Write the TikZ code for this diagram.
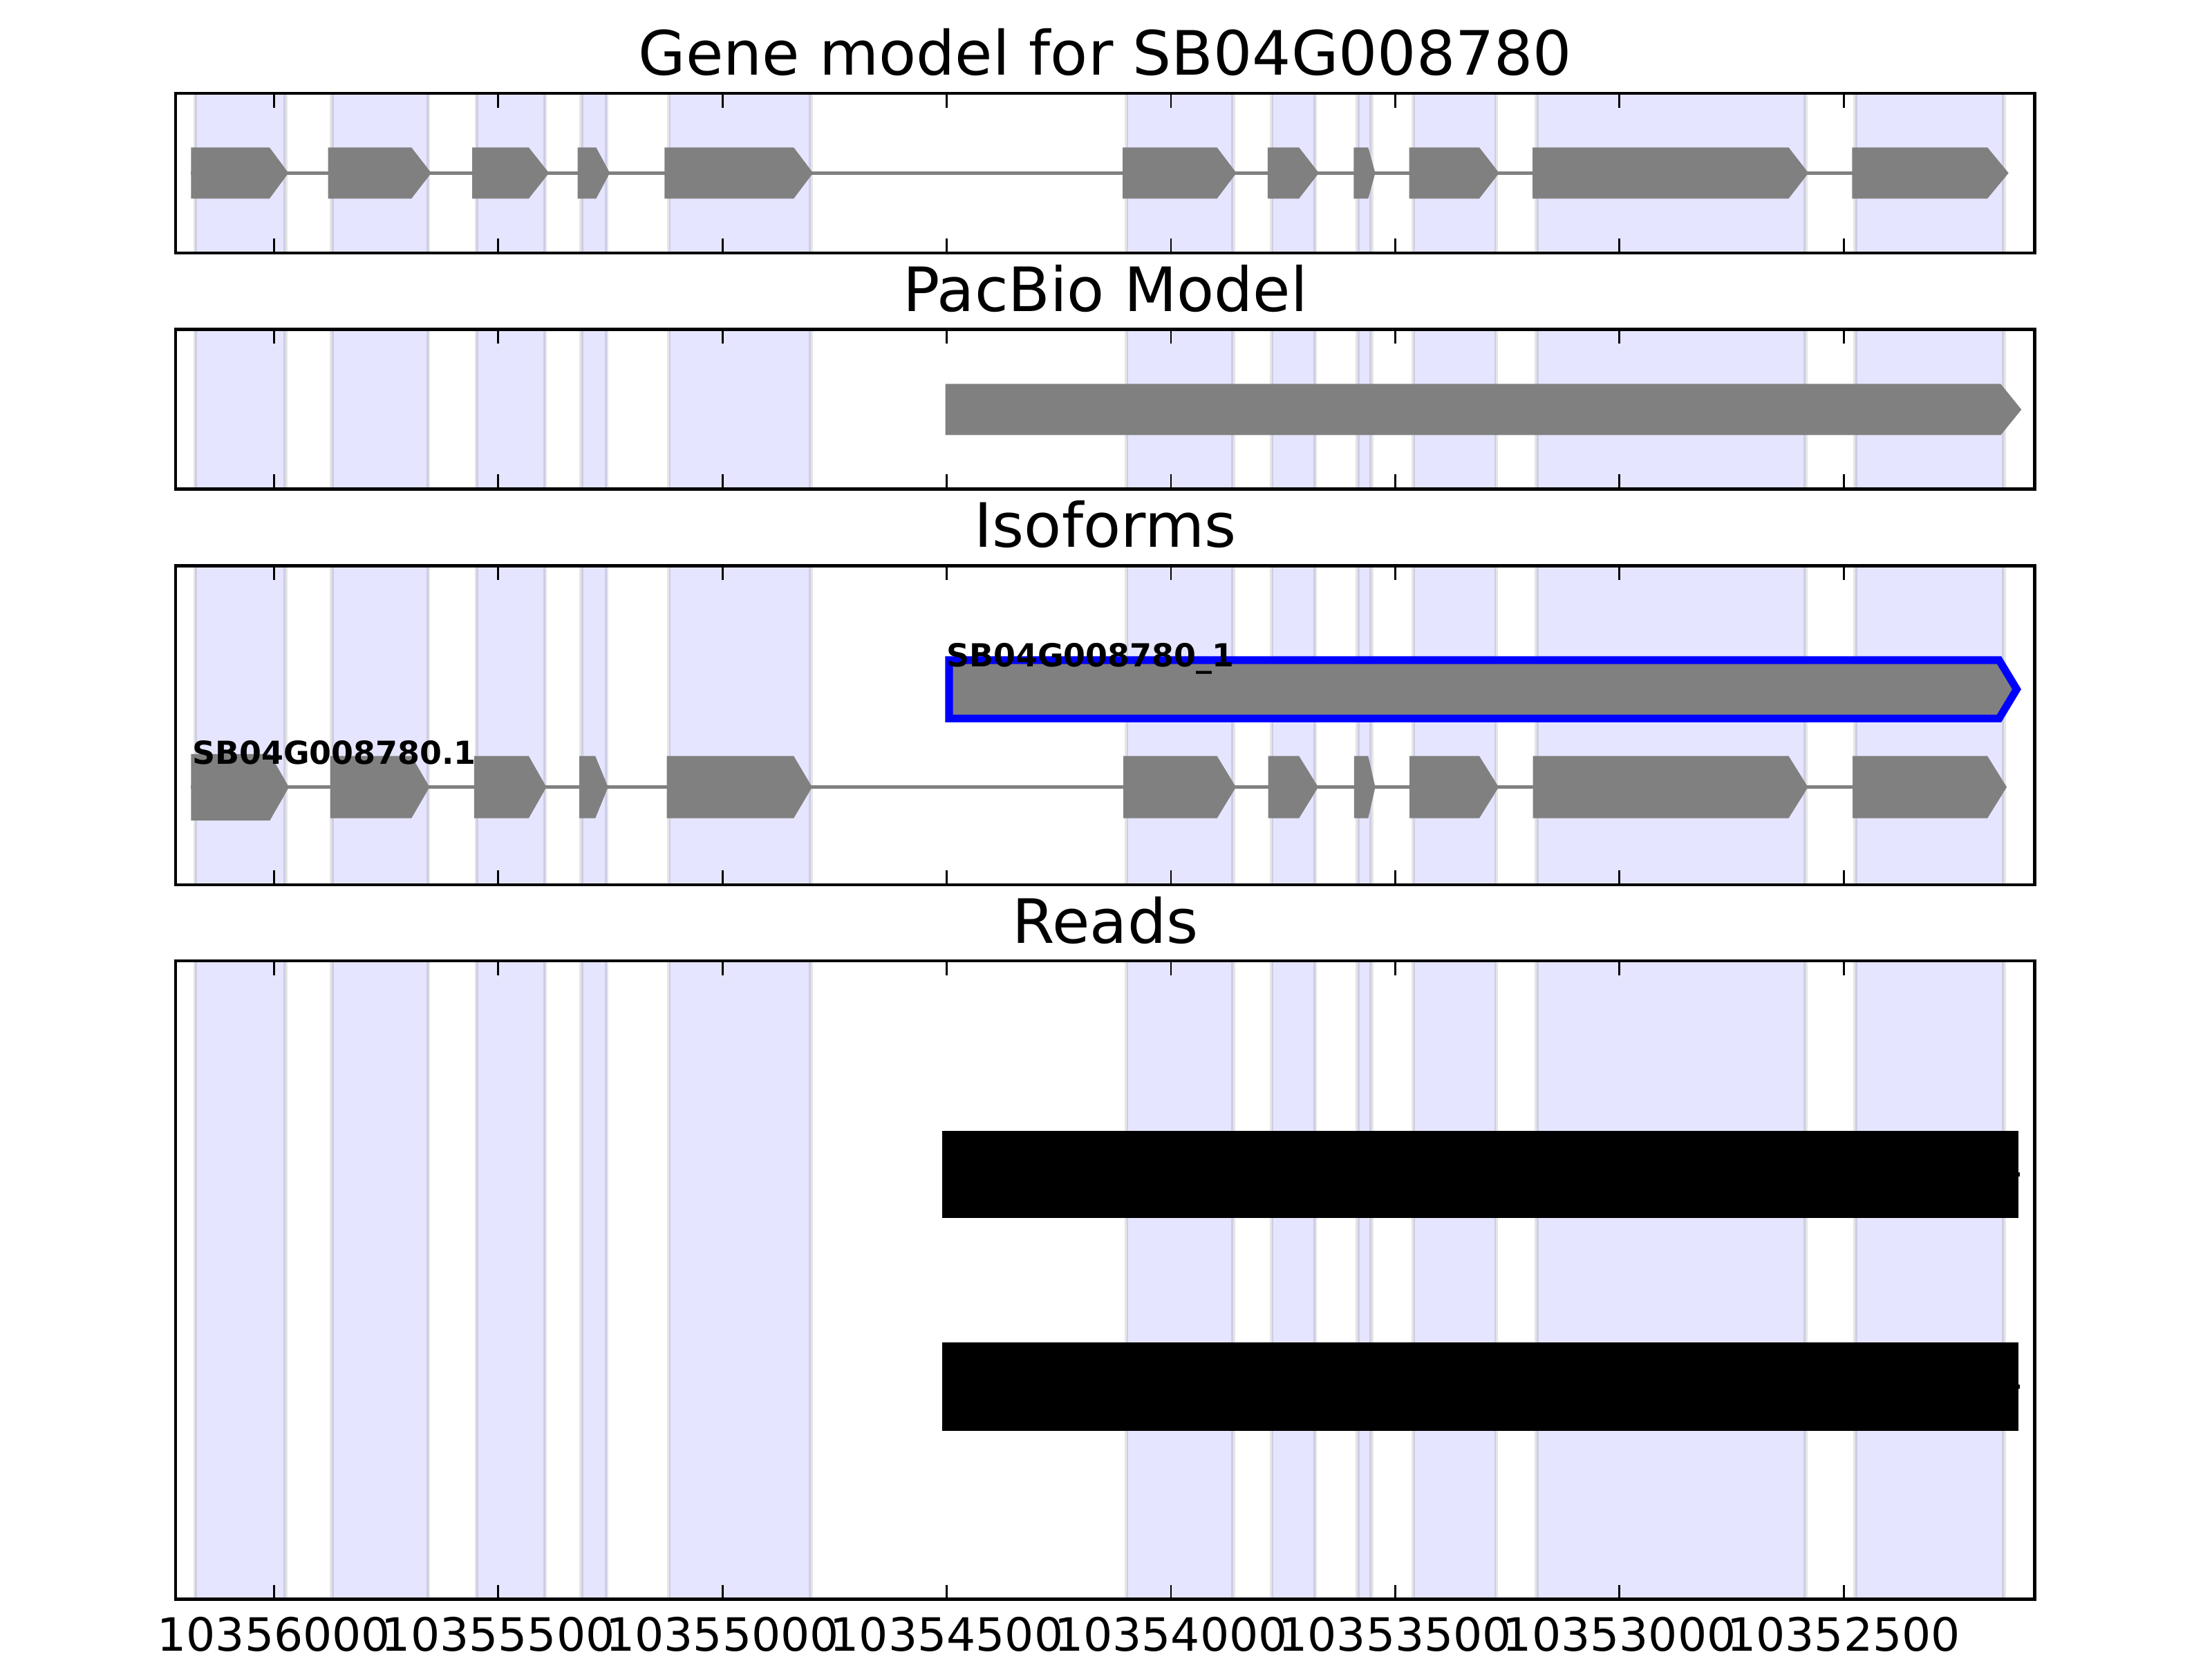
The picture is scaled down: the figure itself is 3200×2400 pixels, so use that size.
\documentclass[tikz,border=0pt]{standalone}
\usepackage{fontspec}
\setmainfont{DejaVu Sans}
\definecolor{exongray}{RGB}{128,128,128}
\definecolor{pureblue}{RGB}{0,0,255}
\tikzset{
  exonfill/.style={fill=exongray},
  intronline/.style={draw=exongray, line width=1pt},
  spanfill/.style={fill=pureblue, fill opacity=0.1},
  spanedge/.style={draw=black, draw opacity=0.1, line width=1pt},
  axesframe/.style={draw=black, line width=0.8pt},
  tickmark/.style={draw=black, line width=0.5pt},
  titletext/.style={anchor=base, font=\fontsize{16}{19}\selectfont, inner sep=0pt},
  ticktext/.style={anchor=base, font=\fontsize{12}{14}\selectfont, inner sep=0pt},
  isotext/.style={anchor=base west, font=\fontsize{8.3}{10}\selectfont\bfseries, inner sep=0pt},
  selbox/.style={fill=exongray, draw=pureblue, line width=2pt, miter limit=10},
  readbar/.style={fill=black}
}
% spans: top bottom
\newcommand\myspans[2]{%
  \foreach \a/\b in {282.4/413, 480/619.6, 689.3/788.5, 840.8/877.6, 967.6/1173.1, 1629.5/1784.2, 1839.5/1902.6, 1964.1/1984, 2044.5/2164.3, 2222.8/2612, 2684/2899.2}{%
    \fill[spanfill] (\a,#1) rectangle (\b,#2);
    \draw[spanedge] (\a,#1) -- (\a,#2);
    \draw[spanedge] (\b,#1) -- (\b,#2);
  }}
% exon: start shoulder tip ycenter halfheight
\newcommand\myexon[5]{%
  \fill[exonfill] (#1,{#4-#5}) -- (#2,{#4-#5}) -- (#3,#4) -- (#2,{#4+#5}) -- (#1,{#4+#5}) -- cycle;}
% frame with ticks: top bottom
\newcommand\myframe[2]{%
  \foreach \k in {0,...,7}{%
    \draw[tickmark] ({396.3+324.41*\k},#1) -- ({396.3+324.41*\k},{#1+21});
    \draw[tickmark] ({396.3+324.41*\k},#2) -- ({396.3+324.41*\k},{#2-21});
  }
  \draw[axesframe] (254,#1) rectangle (2943.5,#2);}
\begin{document}
\begin{tikzpicture}[x=0.0025in,y=-0.0025in]
\useasboundingbox (0,0) rectangle (3200,2400);
\fill[white] (0,0) rectangle (3200,2400);

% ---------- Panel 1: gene model ----------
\myspans{135}{366}
\draw[intronline] (276.4,250.4) -- (2680,250.4);
\foreach \s/\m/\t in {276.4/389.9/417.3, 474.7/595.2/623.9, 683.2/764.9/794.2, 835.7/862.4/882.2, 961.3/1148.2/1176.2, 1624.1/1760.6/1788.6, 1833.9/1879.2/1907.9, 1958.3/1979.3/1989.5, 2038.6/2140/2168.7, 2217/2587.5/2616.2, 2679.3/2875.1/2905.7}{%
  \myexon{\s}{\m}{\t}{250.3}{37}}
\myframe{135}{366}
\node[titletext] (t1) at (1599,109) {Gene model for SB04G008780};

% ---------- Panel 2: PacBio ----------
\myspans{476.5}{707.5}
\myexon{1367.7}{2894.3}{2924.3}{592.5}{37}
\myframe{476.5}{707.5}
\node[titletext] (t2) at (1599,450.5) {PacBio Model};

% ---------- Panel 3: Isoforms ----------
\myspans{818.5}{1280}
\draw[intronline] (276.4,1138.6) -- (2680,1138.6);
\myexon{276.4}{390.5}{418}{1138.8}{48}
\foreach \s/\m/\t in {477.9/595.2/621.4, 685.8/764.9/790.4, 838.2/861.2/879.7, 964.5/1148.2/1174.9, 1625/1760.6/1788, 1834.5/1879.2/1907, 1958.8/1979.3/1989.5, 2039/2140/2168, 2217.5/2587.5/2615.5, 2680/2875.1/2903}{%
  \myexon{\s}{\m}{\t}{1138.7}{45}}
\filldraw[selbox] (1373,955) -- (2892,955) -- (2917.5,997.1) -- (2892,1039.3) -- (1373,1039.3) -- cycle;
\node[isotext] (l1) at (277,1105) {SB04G008780.1};
\node[isotext] (l2) at (1368,964) {SB04G008780\_1};
\myframe{818.5}{1280}
\node[titletext] (t3) at (1599,792) {Isoforms};

% ---------- Panel 4: Reads ----------
\myspans{1390}{2313.5}
\fill[readbar] (1363.3,1635.7) rectangle (2919.7,1762.2);
\fill[readbar] (1363.3,1941.8) rectangle (2919.7,2070.4);
\draw[black, line width=1pt] (2919,1699) -- (2921.5,1699);
\draw[black, line width=1pt] (2919,2006) -- (2921.5,2006);
\myframe{1390}{2313.5}
\node[titletext] (t4) at (1599,1364) {Reads};

% tick labels
\foreach \k/\lab in {0/10356000, 1/10355500, 2/10355000, 3/10354500, 4/10354000, 5/10353500, 6/10353000, 7/10352500}{%
  \node[ticktext] (tk\k) at ({396.3+324.41*\k},2388) {\lab};}
\end{tikzpicture}
\end{document}
